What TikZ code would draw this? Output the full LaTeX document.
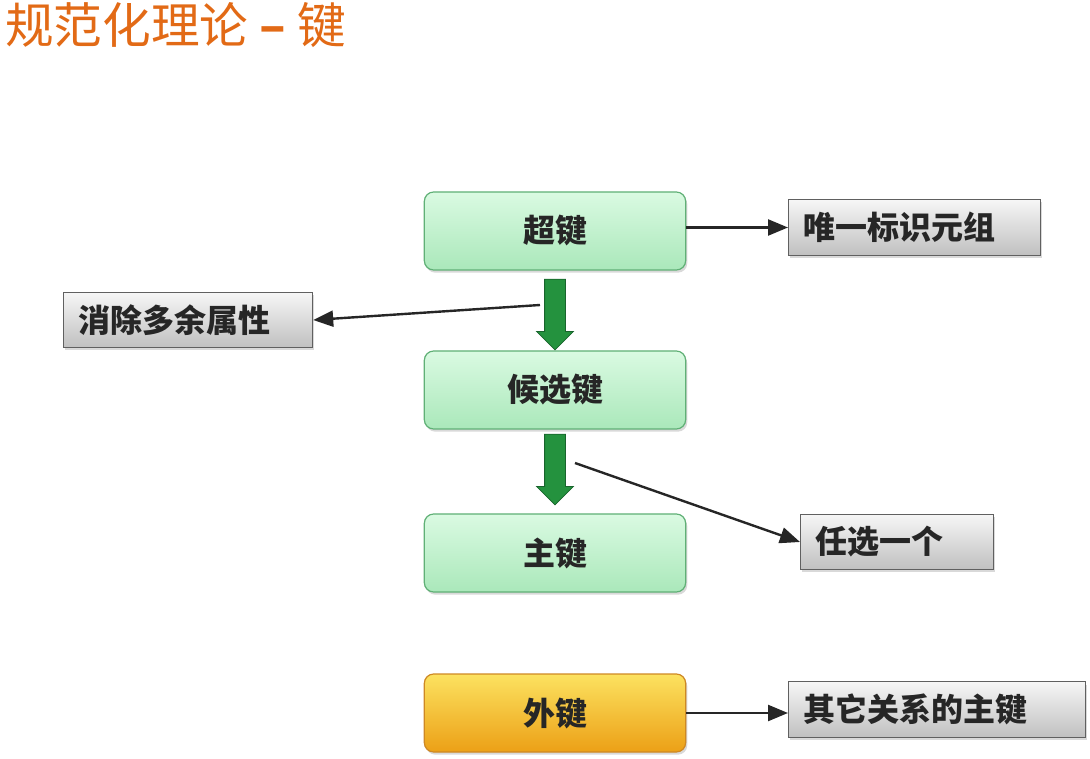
\documentclass[tikz,border=0pt]{standalone}
\usepackage{fontspec}
\setmainfont{Noto Sans CJK SC}
\usepackage{tikz}
\usetikzlibrary{positioning, arrows.meta, shapes.arrows, shadows, calc}
\usepackage{xcolor}

\definecolor{titleorange}{RGB}{226,106,22}
\definecolor{keytop}{RGB}{218,250,226}
\definecolor{keybot}{RGB}{170,232,186}
\definecolor{keyline}{RGB}{96,176,118}
\definecolor{fktop}{RGB}{252,226,96}
\definecolor{fkbot}{RGB}{236,160,22}
\definecolor{fkline}{RGB}{206,136,36}
\definecolor{notetop}{RGB}{246,246,246}
\definecolor{notebot}{RGB}{192,192,192}
\definecolor{noteline}{RGB}{96,96,96}
\definecolor{downfill}{RGB}{36,146,62}
\definecolor{downline}{RGB}{24,100,44}

\begin{document}
\begin{tikzpicture}[
                  x=0.75pt, y=-0.75pt,
                  key/.style={draw=keyline, line width=0.9pt, rounded corners=7pt,
                              top color=keytop, bottom color=keybot,
                              minimum width=196pt, minimum height=58.5pt,
                              font=\fontsize{24}{28}\selectfont\bfseries, text=black!85,
                              drop shadow={shadow xshift=1.2pt, shadow yshift=-2pt, opacity=.3}},
                  fkey/.style={key, draw=fkline, top color=fktop, bottom color=fkbot},
                  note/.style={draw=noteline, line width=0.9pt,
                              top color=notetop, bottom color=notebot,
                              minimum height=41.5pt, inner xsep=11pt, anchor=west, align=left,
                              font=\fontsize{24}{28}\selectfont\bfseries, text=black!85,
                              drop shadow={shadow xshift=1.2pt, shadow yshift=-2pt, opacity=.3}},
                  down/.style={single arrow, draw=downline, fill=downfill, line width=0.6pt,
                              shape border rotate=270, inner sep=7.5pt,
                              single arrow head extend=6pt, minimum height=53pt, anchor=tip},
                  link/.style={draw=black!85, line width=1.8pt,
                              -{Triangle[length=15pt, width=12pt]}},
            ]
            \useasboundingbox (0,0) rectangle (1090,759);

            % title
            \node[anchor=base west, inner sep=0pt, text=titleorange,
                  font=\fontsize{36.5}{42}\selectfont] (title) at (5,44) {规范化理论 \textbf{–} 键};

            % keys
            \node[key] (super) at (555,231) {超键};
            \node[key] (cand) at (555,390) {候选键};
            \node[key] (main) at (555,553) {主键};
            \node[fkey] (foreign) at (555,713) {外键};

            % notes
            \node[note, text width=167pt] (uniq) at (788,227.5) {唯一标识元组};
            \node[note, text width=164.75pt] (drop) at (63,320) {消除多余属性};
            \node[note, text width=122.75pt] (pick) at (800,542) {任选一个};
            \node[note, text width=200.75pt] (other) at (788,709.5) {其它关系的主键};

            % green arrows
            \node[down] (arr1) at (cand.north) {};
            \node[down] (arr2) at ($(main.north)+(0,-8)$) {};

            % connectors
            \coordinate (dropfrom) at (540,305);
            \coordinate (pickfrom) at (575,463);
            \draw[link] (uniq.west -| super.east) -- (uniq.west);
            \draw[link] (dropfrom) -- (drop.east);
            \draw[link] (pickfrom) -- (pick.west);
            \draw[link] (foreign.east) -- (foreign.east -| other.west);
      \end{tikzpicture}
\end{document}
